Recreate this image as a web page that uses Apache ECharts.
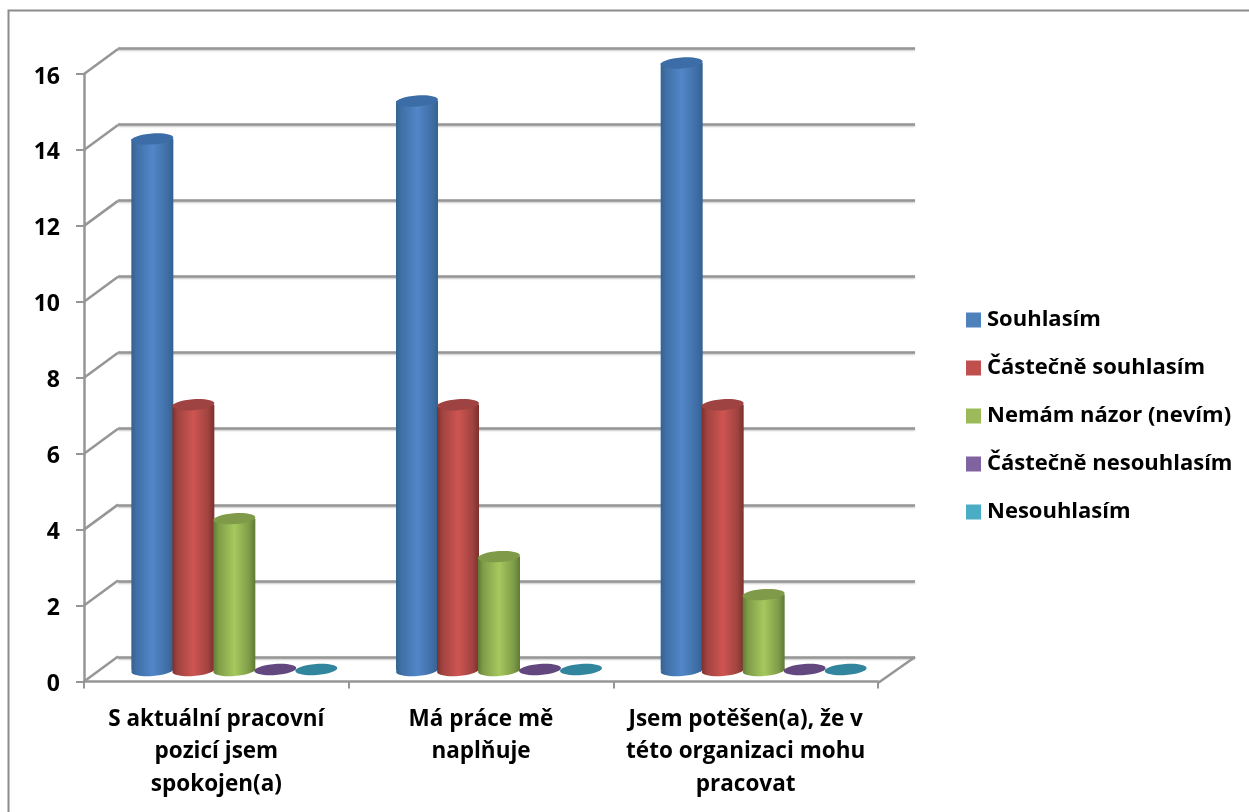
<!DOCTYPE html>
<html><head><meta charset="utf-8">
<style>html,body{margin:0;padding:0;background:#fff}#c{width:1249px;height:812px}</style>
<script src="https://cdn.jsdelivr.net/npm/echarts@6/dist/echarts.min.js"></script>
</head><body><div id="c"></div>
<script>
const categories = ['S aktuální pracovní\npozicí jsem\nspokojen(a)', 'Má práce mě\nnaplňuje', 'Jsem potěšen(a), že v\ntéto organizaci mohu\npracovat'];
const seriesNames = ['Souhlasím', 'Částečně souhlasím', 'Nemám názor (nevím)', 'Částečně nesouhlasím', 'Nesouhlasím'];
const souhlasim = [14, 15, 16];
const castecneSouhlasim = [7, 7, 7];
const nemamNazor = [4, 3, 2];
const castecneNesouhlasim = [0, 0, 0];
const nesouhlasim = [0, 0, 0];
const yTicks = [0, 2, 4, 6, 8, 10, 12, 14, 16];
const seriesValues = [souhlasim, castecneSouhlasim, nemamNazor, castecneNesouhlasim, nesouhlasim];

const legendColors = ['#4f81bd', '#c0504d', '#9bbb59', '#8064a2', '#4bacc6'];
const bodyDark = ['#34628f', '#7c2f2d', '#5f7a34', '#4f3a6b', '#276f82'];
const bodyEdge = ['#3f6fa6', '#a04340', '#7f9c48', '#6a5088', '#3a8ba0'];
const bodyLight = ['#5286c8', '#ce5551', '#a6c85e', '#8a6cae', '#52b8d2'];
const topColor = ['#3d6da6', '#9e4341', '#7f9b49', '#63487f', '#31859c'];

const FONT = '"Open Sans", Lato, sans-serif';
const GREY = '#969696';
const gridShadow = {shadowColor: 'rgba(0,0,0,0.25)', shadowBlur: 2, shadowOffsetY: 1};
const depthX = 34, depthY = -25;      // 3D floor depth
const midX = 18, midY = -11;          // column axis inside the depth
const barFrac = 41 / 264.7, ry = 5.5, tilt = 0.07;

function cylinder(si) {
  return function (params, api) {
    const cat = api.value(0), val = api.value(1);
    const base = api.coord([cat, 0]), top = api.coord([cat, val]);
    const w = api.size([1, 0])[0] * barFrac, rx = w / 2 + 0.5;
    const cx = base[0] + midX + (si - 2) * w;
    const yBase = base[1] + midY, yTop = top[1] + midY;
    if (val === 0) {
      return {type: 'ellipse', shape: {cx: 0, cy: 0, rx: rx, ry: ry},
        x: cx, y: yBase - 1, rotation: tilt, style: {fill: topColor[si]}};
    }
    const grad = {type: 'linear', x: 0, y: 0, x2: 1, y2: 0, colorStops: [
      {offset: 0, color: bodyDark[si]}, {offset: 0.12, color: bodyEdge[si]},
      {offset: 0.5, color: bodyLight[si]}, {offset: 0.85, color: bodyEdge[si]},
      {offset: 1, color: bodyDark[si]}]};
    return {type: 'group', children: [
      {type: 'ellipse', shape: {cx: 0, cy: 0, rx: rx, ry: ry}, x: cx, y: yBase, rotation: tilt, style: {fill: grad}},
      {type: 'rect', shape: {x: cx - rx, y: yTop, width: 2 * rx, height: yBase - yTop}, style: {fill: grad}},
      {type: 'ellipse', shape: {cx: 0, cy: 0, rx: rx, ry: ry}, x: cx, y: yTop, rotation: tilt, style: {fill: topColor[si]}}
    ]};
  };
}

const columnSeries = seriesNames.map((name, si) => ({
  name, type: 'custom', xAxisIndex: 0, yAxisIndex: 0, z: 5 + si,
  itemStyle: {color: legendColors[si]},
  renderItem: cylinder(si),
  encode: {x: 0, y: 1},
  data: seriesValues[si].map((v, i) => [i, v])
}));

const chart = echarts.init(document.getElementById('c'), null, {renderer: 'canvas'});
chart.setOption({
  animation: false,
  backgroundColor: '#fff',
  graphic: [{type: 'polyline', silent: true, z: 0,
    shape: {points: [[8.5, 812], [8.5, 10.5], [1249, 10.5]]},
    style: {stroke: '#8c8c8c', lineWidth: 2, fill: null}}],
  grid: [
    {left: 84, top: 74, width: 794, height: 607.5},
    {left: 118, top: 48, width: 797, height: 609}
  ],
  xAxis: [
    {gridIndex: 0, type: 'category', data: categories, offset: 1.5,
      axisLine: {lineStyle: {color: GREY, width: 2.5}},
      axisTick: {show: true, length: 7, lineStyle: {color: GREY, width: 2}},
      axisLabel: {interval: 0, margin: 20, color: '#000', fontFamily: FONT, fontWeight: 'bold', fontSize: 22.5, lineHeight: 32.5}},
    {gridIndex: 1, type: 'category', data: categories, show: false}
  ],
  yAxis: [
    {gridIndex: 0, type: 'value', min: 0, max: 16, interval: 2,
      axisLine: {show: true, lineStyle: {color: GREY, width: 2.5}},
      axisTick: {show: true, length: 8, lineStyle: {color: GREY, width: 2}},
      splitLine: {show: false},
      axisLabel: {margin: 24, color: '#000', fontFamily: FONT, fontWeight: 'bold', fontSize: 23, verticalAlign: 'top', lineHeight: 6}},
    {gridIndex: 1, type: 'value', min: 0, max: 16, interval: 2,
      axisLine: {show: false}, axisTick: {show: false}, axisLabel: {show: false},
      splitLine: {show: true, lineStyle: Object.assign({color: GREY, width: 2.5}, gridShadow)}}
  ],
  legend: {
    orient: 'vertical', left: 966, top: 307, padding: 0, itemWidth: 15, itemHeight: 15, itemGap: 22,
    icon: 'rect', selectedMode: false,
    data: seriesNames,
    textStyle: {color: '#000', fontFamily: FONT, fontWeight: 'bold', fontSize: 22, lineHeight: 26, padding: [0, 0, 0, 1]}
  },
  series: [
    {type: 'custom', xAxisIndex: 0, yAxisIndex: 0, z: 1, silent: true,
      encode: {y: 0}, data: yTicks.map(v => [v]),
      renderItem(params, api) {
        const y = api.coord([0, api.value(0)])[1], x0 = params.coordSys.x;
        return {type: 'line', shape: {x1: x0, y1: y, x2: x0 + depthX, y2: y + depthY},
          style: {stroke: GREY, lineWidth: 2.5}};
      }},
    {type: 'custom', xAxisIndex: 0, yAxisIndex: 0, z: 1, silent: true,
      encode: {y: 0}, data: [[0]],
      renderItem(params, api) {
        const y = api.coord([0, api.value(0)])[1] + 1.5, x0 = params.coordSys.x + params.coordSys.width;
        return {type: 'line', shape: {x1: x0, y1: y, x2: x0 + 37, y2: y + depthY - 1},
          style: {stroke: GREY, lineWidth: 2.5}};
      }},
    ...columnSeries
  ]
});
</script></body></html>
